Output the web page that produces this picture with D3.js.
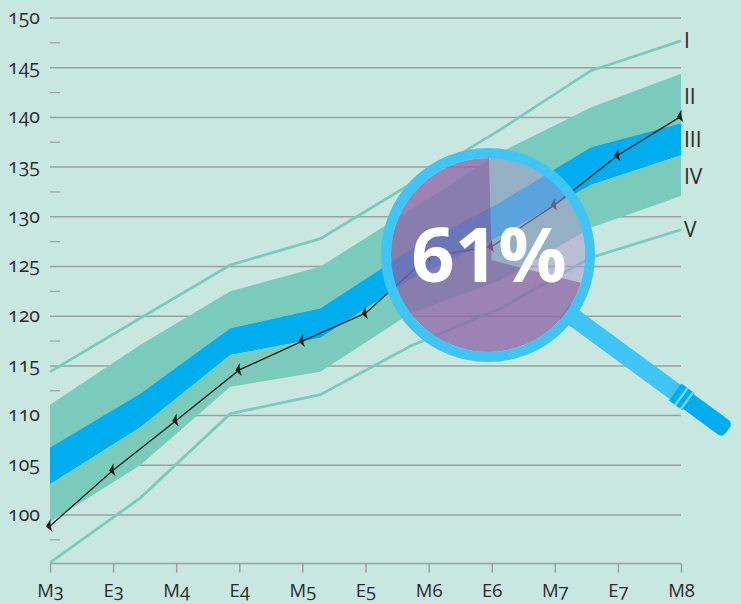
<!DOCTYPE html>
<html>
<head>
<meta charset="utf-8">
<script src="https://cdn.jsdelivr.net/npm/d3@7"></script>
<style>
  html, body { margin: 0; padding: 0; background: #c9e7e1; }
  svg { display: block; }
  text { font-family: "Open Sans", sans-serif; fill: #2b2b2b; font-variant-numeric: oldstyle-nums; font-feature-settings: "onum"; }
</style>
</head>
<body>
<svg width="741" height="604"></svg>
<script>
// tick labels
var xLabels = ["M3", "E3", "M4", "E4", "M5", "E5", "M6", "E6", "M7", "E7", "M8"];
var yMajor = [100, 105, 110, 115, 120, 125, 130, 135, 140, 145, 150];
var yMinor = [97.5, 102.5, 107.5, 112.5, 117.5, 122.5, 127.5, 132.5, 137.5, 142.5, 147.5];

// percentile curves, 8 knots spread evenly over the x axis
var lineI = [114.4, 119.8, 125.15, 127.8, 133.3, 138.8, 144.7, 147.7];
var bandIITop = [111.1, 117.1, 122.5, 125.0, 130.7, 136.5, 141.0, 144.4];
var bandIIITop = [106.8, 112.2, 118.8, 120.8, 126.7, 131.5, 137.0, 139.4];
var bandIIIBottom = [103.1, 108.8, 116.1, 117.8, 123.7, 128.1, 133.2, 136.2];
var bandIVBottom = [99.3, 105.0, 112.9, 114.4, 120.3, 123.6, 128.9, 132.1];
var lineV = [95.2, 101.7, 110.2, 112.1, 117.0, 120.8, 125.9, 128.7];

// measured values, one per x label
var measured = [98.9, 104.5, 109.5, 114.6, 117.5, 120.3, 126.0, 127.0, 131.2, 136.2, 140.1];

var seriesNames = ["I", "II", "III", "IV", "V"];
var seriesLabelAt = [147.7, 142.1, 137.8, 134.0, 128.7];
var percent = 61;

var svg = d3.select("svg");

var x = d3.scalePoint().domain(xLabels).range([50, 681]);
var xKnot = d3.scaleLinear().domain([0, 7]).range([50, 681]);
var y = d3.scaleLinear().domain([150, 100]).range([18, 515]);
var baseY = 563.5;

var green = "#7bcbbd", blue = "#00aeef", lightBlue = "#40c4f4", gridCol = "#9c9fa0";

// grid
svg.append("g").selectAll("line").data(yMajor).enter().append("line")
  .attr("x1", 50).attr("x2", 681)
  .attr("y1", function (d) { return y(d); }).attr("y2", function (d) { return y(d); })
  .attr("stroke", gridCol).attr("stroke-width", 1.5);

svg.append("g").selectAll("line").data(yMinor).enter().append("line")
  .attr("x1", 50).attr("x2", 60)
  .attr("y1", function (d) { return y(d); }).attr("y2", function (d) { return y(d); })
  .attr("stroke", gridCol).attr("stroke-width", 1.2);

// bottom axis
var xAxis = d3.axisBottom(x).tickSize(9).tickPadding(12);
var axisG = svg.append("g").attr("transform", "translate(0," + baseY + ")").call(xAxis);
axisG.select(".domain").remove();
axisG.selectAll("line").attr("stroke", gridCol).attr("stroke-width", 1.5);
axisG.selectAll("text").style("font-size", "18.5px").attr("y", 20);
svg.append("line").attr("x1", 50).attr("x2", 681).attr("y1", baseY).attr("y2", baseY)
  .attr("stroke", gridCol).attr("stroke-width", 1.5);

// y labels
svg.append("g").selectAll("text").data(yMajor).enter().append("text")
  .attr("x", 40).attr("y", function (d) { return y(d); })
  .attr("dy", "0.3em").attr("text-anchor", "end").style("font-size", "19.5px")
  .text(function (d) { return d; });

// bands
function band(top, bottom) {
  return d3.area()
    .x(function (d, i) { return xKnot(i); })
    .y0(function (d, i) { return y(bottom[i]); })
    .y1(function (d) { return y(d); })(top);
}
var paths = [[bandIITop, bandIIITop, green], [bandIIITop, bandIIIBottom, blue], [bandIIIBottom, bandIVBottom, green]];
svg.append("g").selectAll("path").data(paths).enter().append("path")
  .attr("d", function (d) { return band(d[0], d[1]); })
  .attr("fill", function (d) { return d[2]; });

var knotLine = d3.line().x(function (d, i) { return xKnot(i); }).y(function (d) { return y(d); });
svg.append("g").selectAll("path").data([lineI, lineV]).enter().append("path")
  .attr("d", knotLine).attr("fill", "none").attr("stroke", green).attr("stroke-width", 2.8);

// measured line
var line = d3.line().x(function (d, i) { return x(xLabels[i]); }).y(function (d) { return y(d); });
svg.append("path").attr("d", line(measured)).attr("fill", "none").attr("stroke", "#1d1d1b").attr("stroke-width", 1.3);

svg.append("g").selectAll("path").data(measured).enter().append("path")
  .attr("d", "M0.5,-7 L-4,0.5 L2.5,6 Q0,0.5 0.5,-7 Z")
  .attr("fill", "#1d1d1b")
  .attr("transform", function (d, i) { return "translate(" + x(xLabels[i]) + "," + y(d) + ")"; });

// series names
svg.append("g").selectAll("text").data(seriesNames).enter().append("text")
  .attr("x", 684).attr("y", function (d, i) { return y(seriesLabelAt[i]); })
  .attr("dy", "0.35em").style("font-size", "21px")
  .text(function (d) { return d; });

// magnifier
var cx = 488, cy = 255;
var handle = svg.append("g").attr("transform", "translate(" + cx + "," + cy + ") rotate(36.2)");
handle.append("rect").attr("x", 95).attr("y", -9).attr("width", 140).attr("height", 18).attr("fill", lightBlue);
handle.append("path")
  .attr("d", "M232,-10.5 L248,-10.5 L249,-9 L291,-9 Q297,-9 297,-3 L297,3 Q297,9 291,9 L249,9 L248,10.5 L232,10.5 Z")
  .attr("fill", blue);
handle.selectAll(".stripe").data([238.5, 245.5]).enter().append("rect")
  .attr("x", function (d) { return d; }).attr("y", -10.5).attr("width", 2.2).attr("height", 21).attr("fill", "#7fd6f5");

svg.append("clipPath").attr("id", "lens").append("circle").attr("cx", cx).attr("cy", cy).attr("r", 97);

var pieG = svg.append("g").attr("clip-path", "url(#lens)").append("g").attr("transform", "translate(491.7,260)");
var arc = d3.arc().innerRadius(0).outerRadius(130);
var wedgeStart = -1.5 * Math.PI / 180, wedgeEnd = 104.3 * Math.PI / 180;
pieG.append("path").attr("d", arc({ startAngle: wedgeEnd, endAngle: 2 * Math.PI + wedgeStart })).attr("fill", "#8c64a7").attr("fill-opacity", 0.755);
pieG.append("path").attr("d", arc({ startAngle: wedgeStart, endAngle: wedgeEnd })).attr("fill", "#ac99cc").attr("fill-opacity", 0.53);

svg.append("circle").attr("cx", cx).attr("cy", cy).attr("r", 102)
  .attr("fill", "none").attr("stroke", lightBlue).attr("stroke-width", 10);

svg.append("text").attr("x", cx + 1).attr("y", 282).attr("text-anchor", "middle")
  .style("font-size", "76px").style("font-weight", 700).style("fill", "#fff")
  .style("font-variant-numeric", "lining-nums").style("font-feature-settings", "'lnum'")
  .text(percent + "%");
</script>
</body>
</html>
